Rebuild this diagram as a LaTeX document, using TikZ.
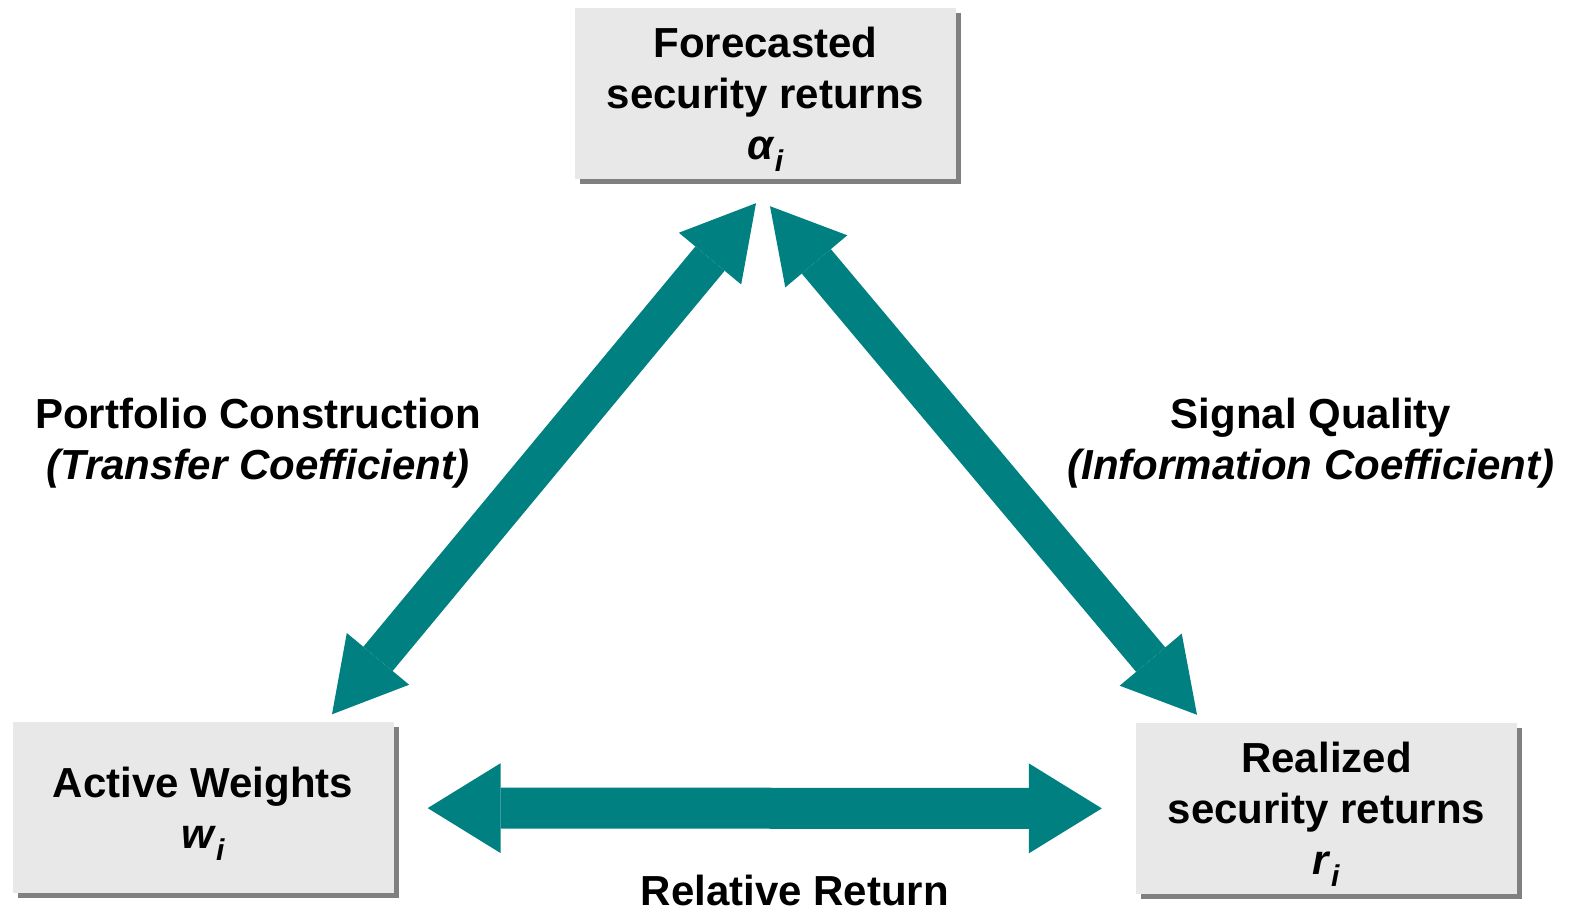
\documentclass[tikz,border=0pt]{standalone}
\usepackage{fontspec}
\setmainfont{Liberation Sans}
\usetikzlibrary{arrows.meta, shadows}
\definecolor{arrowteal}{RGB}{0,128,128}
\newcommand{\lowsub}[1]{\smash{\raisebox{-0.28em}{\fontsize{30}{30}\selectfont #1}}}
\tikzset{x=1pt, y=1pt, % one unit is one pixel of the slide
every node/.style={ % Sets the font of every text
font=\fontsize{42}{51}\selectfont\bfseries,
align=center},
box/.style={ % Grey boxes with a hard shadow
fill=gray!18, inner sep=0pt,
minimum width=381pt, minimum height=171pt,
drop shadow={shadow xshift=5pt, shadow yshift=-5pt, fill=black!50, opacity=1}},
link/.style={ % Slanted double arrows
draw=arrowteal, line width=38pt,
{Triangle[length=72pt,width=81pt,line width=0pt]}-{Triangle[length=72pt,width=81pt,line width=0pt]}},
flow/.style={ % Flat double arrow
draw=arrowteal, line width=41pt,
shorten <=34pt, shorten >=34pt,
{Triangle[length=73pt,width=90pt,line width=0pt]}-{Triangle[length=73pt,width=90pt,line width=0pt]}}}

\begin{document}
\begin{tikzpicture}
    \useasboundingbox (0,0) rectangle (1569,910);

    \node[box] (fc) at (765.5,816.5) {Forecasted\\security returns\\\textit{α}\lowsub{\textit{i}}};
    \node[box] (aw) at (203,102) {Active Weights\\\textit{w}\lowsub{\textit{i}}};
    \node[box] (rs) at (1326.5,101.5) {Realized\\security returns\\\textit{r}\lowsub{\textit{i}}};

    \node (pc) at (258,467) {Portfolio Construction\\\textit{(Transfer Coefficient)}};
    \node (sq) at (1311,467) {Signal Quality\\\textit{(Information Coefficient)}};
    \node (rr) at (795,20) {Relative Return};

    \draw[link] ([xshift=129pt,yshift=8pt]aw.north) -- ([xshift=-9.5pt,yshift=-24pt]fc.south);
    \draw[link] ([xshift=4.5pt,yshift=-27pt]fc.south) -- ([xshift=-129.5pt,yshift=8pt]rs.north);
    \draw[flow] (aw) -- (rs);

\end{tikzpicture}
\end{document}
